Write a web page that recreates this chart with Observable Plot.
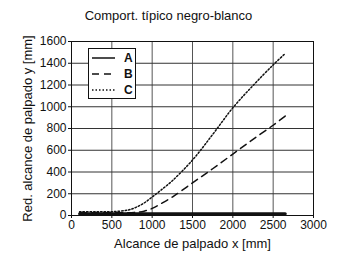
<!DOCTYPE html>
<html>
<head>
<meta charset="utf-8">
<script src="https://cdn.jsdelivr.net/npm/d3@7"></script>
<script src="https://cdn.jsdelivr.net/npm/@observablehq/plot@0.6"></script>
<style>
  body { margin: 0; background: white; font-family: "Liberation Sans", Arial, sans-serif; }
  #wrap { position: relative; width: 337px; height: 255px; overflow: hidden; }
  #title { position: absolute; left: 0; top: 8px; width: 337px; text-align: center; font-size: 13px; line-height: 16px; color: #111; }
  #chart { position: absolute; left: 0; top: 0; }
  #chart g[aria-label="x-axis label"] text, #chart g[aria-label="y-axis label"] text { font-size: 13px; }
  #legend { position: absolute; left: 88px; top: 48px; width: 46px; height: 49px; border: 1px solid #111; background: white; }
  .row { position: absolute; left: 0; height: 14px; width: 46px; }
  .row svg { position: absolute; left: 3px; top: 3px; }
  .row span { position: absolute; left: 35px; top: 0; font-weight: bold; font-size: 12px; line-height: 14px; color: #111; }
</style>
</head>
<body>
<div id="wrap">
  <div id="chart"></div>
  <div id="title">Comport. típico negro-blanco</div>
  <div id="legend"></div>
</div>
<script>
const seriesNames = ["A", "B", "C"];
const xA = [100, 2650];
const yA = [15, 15];
const xB = [100, 300, 500, 700, 800, 900, 1000, 1100, 1250, 1500, 1750, 2000, 2250, 2500, 2650];
const yB = [25, 25, 25, 25, 30, 40, 65, 105, 170, 300, 430, 565, 700, 830, 915];
const xC = [100, 300, 500, 700, 800, 900, 1000, 1100, 1250, 1500, 1750, 2000, 2250, 2500, 2650];
const yC = [35, 35, 35, 50, 75, 115, 170, 228, 320, 510, 745, 990, 1195, 1385, 1490];
const xTicks = [0, 500, 1000, 1500, 2000, 2500, 3000];
const yTicks = [0, 200, 400, 600, 800, 1000, 1200, 1400, 1600];

const dashes = {A: null, B: "7,5", C: "1.5,2"};
const widths = {A: 3, B: 1.5, C: 1.5};
const toRows = (xs, ys) => xs.map((x, i) => ({x, y: ys[i]}));
const dataA = toRows(xA, yA), dataB = toRows(xB, yB), dataC = toRows(xC, yC);

const chart = Plot.plot({
  width: 337, height: 255,
  marginLeft: 71, marginRight: 24, marginTop: 41, marginBottom: 40,
  style: {fontFamily: "'Liberation Sans', Arial, sans-serif", fontSize: "12px", color: "#111", background: "white"},
  x: {domain: [0, 3000]},
  y: {domain: [0, 1600]},
  marks: [
    Plot.gridX(xTicks, {stroke: "#555", strokeOpacity: 1}),
    Plot.gridY(yTicks, {stroke: "#333", strokeOpacity: 1}),
    Plot.line(dataA, {x: "x", y: "y", stroke: "#111", strokeWidth: widths.A}),
    Plot.line(dataB, {x: "x", y: "y", stroke: "#111", strokeWidth: widths.B, strokeDasharray: dashes.B, curve: "catmull-rom"}),
    Plot.line(dataC, {x: "x", y: "y", stroke: "#111", strokeWidth: widths.C, strokeDasharray: dashes.C, curve: "catmull-rom"}),
    Plot.frame({stroke: "#111"}),
    Plot.axisX(xTicks, {tickSize: 3, tickPadding: 2, tickFormat: d => String(d), label: "Alcance de palpado x [mm]", labelAnchor: "center", labelArrow: "none", labelOffset: 32}),
    Plot.axisY(yTicks, {tickSize: 3, tickPadding: 2, tickFormat: d => String(d), label: "Red. alcance de palpado y [mm]", labelAnchor: "center", labelArrow: "none", labelOffset: 49})
  ]
});
document.getElementById("chart").appendChild(chart);

const legend = document.getElementById("legend");
seriesNames.forEach((name, i) => {
  const row = document.createElement("div");
  row.className = "row";
  row.style.top = (2 + i * 16) + "px";
  const dash = dashes[name] ? ` stroke-dasharray="${dashes[name]}"` : "";
  row.innerHTML = `<svg width="24" height="8"><line x1="0" y1="4" x2="23" y2="4" stroke="#111" stroke-width="1.5"${dash}/></svg><span>${name}</span>`;
  legend.appendChild(row);
});
</script>
</body>
</html>
